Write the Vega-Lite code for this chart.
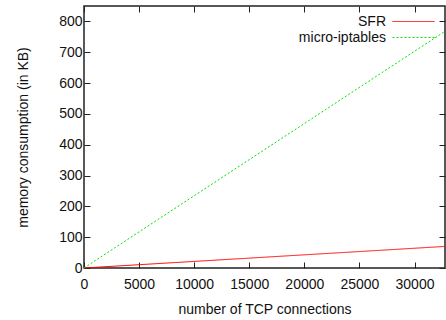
{
  "$schema": "https://vega.github.io/schema/vega-lite/v6.json",
  "width": 361,
  "height": 262,
  "autosize": {"type": "none"},
  "padding": {"left": 84, "top": 6, "right": 1, "bottom": 52},
  "background": "white",
  "config": {
    "font": "Liberation Sans",
    "view": {"stroke": "#222", "strokeWidth": 1.5},
    "axis": {
      "grid": false,
      "domain": false,
      "tickColor": "#222",
      "tickSize": -6,
      "labelFontSize": 14,
      "labelColor": "#111",
      "titleFontSize": 14,
      "titleFontWeight": "normal",
      "titleColor": "#111"
    },
    "legend": {
      "labelFontSize": 14,
      "labelColor": "#111"
    }
  },
  "data": {
    "values": [
      {"connections": 0, "memory": 0, "series": "SFR"},
      {"connections": 8192, "memory": 17.5, "series": "SFR"},
      {"connections": 16384, "memory": 35, "series": "SFR"},
      {"connections": 24576, "memory": 52.5, "series": "SFR"},
      {"connections": 32768, "memory": 70, "series": "SFR"},
      {"connections": 0, "memory": 0, "series": "micro-iptables"},
      {"connections": 8192, "memory": 192, "series": "micro-iptables"},
      {"connections": 16384, "memory": 384, "series": "micro-iptables"},
      {"connections": 24576, "memory": 576, "series": "micro-iptables"},
      {"connections": 32768, "memory": 768, "series": "micro-iptables"}
    ]
  },
  "layer": [
    {
      "mark": {"type": "line", "strokeWidth": 1},
      "encoding": {
        "x": {
          "field": "connections", "type": "quantitative",
          "scale": {"domain": [0, 32768], "nice": false},
          "axis": {"values": [0, 5000, 10000, 15000, 20000, 25000, 30000], "format": "d", "title": "number of TCP connections", "labelPadding": 15, "titlePadding": 11, "labelFlush": false}
        },
        "y": {
          "field": "memory", "type": "quantitative",
          "scale": {"domain": [0, 850], "nice": false},
          "axis": {"values": [0, 100, 200, 300, 400, 500, 600, 700, 800], "title": "memory consumption (in KB)", "labelPadding": 8, "titlePadding": 28}
        },
        "color": {
          "field": "series", "type": "nominal",
          "scale": {"domain": ["SFR", "micro-iptables"], "range": ["#ff0000", "#00e600"]},
          "legend": {
            "title": null,
            "orient": "top-right",
            "offset": 8,
            "symbolType": "M-3,0H3",
            "symbolSize": 196,
            "symbolStrokeWidth": 1,
            "labelAlign": "right",
            "labelOffset": -35,
            "rowPadding": 1
          }
        },
        "strokeDash": {
          "field": "series", "type": "nominal",
          "scale": {"domain": ["SFR", "micro-iptables"], "range": [[1, 0], [2, 2]]},
          "legend": {
            "title": null,
            "orient": "top-right",
            "offset": 8,
            "symbolType": "M-3,0H3",
            "symbolSize": 196,
            "symbolStrokeWidth": 1,
            "labelAlign": "right",
            "labelOffset": -35,
            "rowPadding": 1
          }
        }
      }
    },
    {
      "mark": {"type": "point", "opacity": 0},
      "encoding": {
        "x": {
          "field": "connections", "type": "quantitative",
          "axis": {"orient": "top", "values": [0, 5000, 10000, 15000, 20000, 25000, 30000], "labels": false, "title": null}
        },
        "y": {
          "field": "memory", "type": "quantitative",
          "axis": {"orient": "right", "values": [0, 100, 200, 300, 400, 500, 600, 700, 800], "labels": false, "title": null}
        }
      }
    }
  ],
  "resolve": {"axis": {"x": "independent", "y": "independent"}}
}
